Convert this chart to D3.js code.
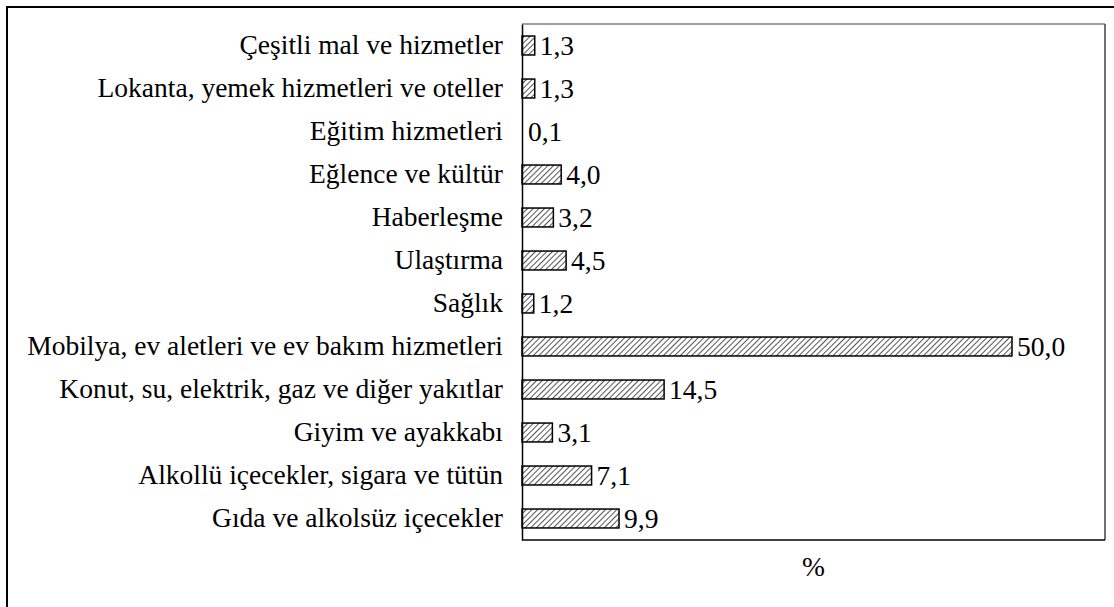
<!DOCTYPE html>
<html>
<head>
<meta charset="utf-8">
<script src="https://cdn.jsdelivr.net/npm/d3@7"></script>
<style>
  body { margin: 0; background: #fff; }
</style>
</head>
<body>
<div id="vis"></div>
<script>
// frame size and plot box
const FRAME_WIDTH = 1114;
const FRAME_HEIGHT = 607;
const PLOT = {left: 522, top: 24, right: 1105, bottom: 540};
const FONT = "Liberation Serif";
const FONT_SIZE = "27.5px";

// data, top row first
const categories = [
  "Çeşitli mal ve hizmetler",
  "Lokanta, yemek hizmetleri ve oteller",
  "Eğitim hizmetleri",
  "Eğlence ve kültür",
  "Haberleşme",
  "Ulaştırma",
  "Sağlık",
  "Mobilya, ev aletleri ve ev bakım hizmetleri",
  "Konut, su, elektrik, gaz ve diğer yakıtlar",
  "Giyim ve ayakkabı",
  "Alkollü içecekler, sigara ve tütün",
  "Gıda ve alkolsüz içecekler"
];
const values = [1.3, 1.3, 0.1, 4.0, 3.2, 4.5, 1.2, 50.0, 14.5, 3.1, 7.1, 9.9];
const axisTitle = "%";

const rows = categories.map((c, i) => ({name: c, value: values[i]}));

const svg = d3.select("#vis")
  .append("svg")
    .attr("width", FRAME_WIDTH)
    .attr("height", FRAME_HEIGHT);

// hatch pattern for bars
const pat = svg.append("defs").append("pattern")
  .attr("id", "hatch")
  .attr("patternUnits", "userSpaceOnUse")
  .attr("width", 4)
  .attr("height", 4)
  .attr("patternTransform", "rotate(45)");
pat.append("rect").attr("width", 4).attr("height", 4).attr("fill", "#fff");
pat.append("line")
  .attr("x1", 0).attr("y1", 0).attr("x2", 0).attr("y2", 4)
  .attr("stroke", "#555").attr("stroke-width", 2);

// outer frame (right and bottom edges run off the picture)
svg.append("rect")
  .attr("x", 7).attr("y", 7)
  .attr("width", FRAME_WIDTH + 20).attr("height", FRAME_HEIGHT + 20)
  .attr("fill", "none")
  .attr("stroke", "#000")
  .attr("stroke-width", 2);

// scales
const X_SCALE = d3.scaleLinear()
  .domain([0, 60])
  .range([PLOT.left, PLOT.left + 588]);

const Y_SCALE = d3.scaleBand()
  .domain(categories)
  .range([PLOT.top, PLOT.bottom])
  .paddingInner(0.56)
  .paddingOuter(0.28);

// plot box: top grey, right dark grey
svg.append("line")
  .attr("x1", PLOT.left).attr("x2", PLOT.right)
  .attr("y1", PLOT.top).attr("y2", PLOT.top)
  .attr("stroke", "#808080").attr("stroke-width", 1.5);
svg.append("line")
  .attr("x1", PLOT.right).attr("x2", PLOT.right)
  .attr("y1", PLOT.top).attr("y2", PLOT.bottom)
  .attr("stroke", "#404040").attr("stroke-width", 1.5);

// bars
svg.selectAll(".bar")
  .data(rows)
  .enter()
  .append("rect")
    .attr("class", "bar")
    .attr("x", X_SCALE(0))
    .attr("y", d => Y_SCALE(d.name))
    .attr("width", d => X_SCALE(d.value) - X_SCALE(0))
    .attr("height", Y_SCALE.bandwidth())
    .attr("fill", "url(#hatch)")
    .attr("stroke", d => d.value < 0.5 ? "none" : "#000")
    .attr("stroke-width", 1.5);

// value labels
svg.selectAll(".val")
  .data(rows)
  .enter()
  .append("text")
    .attr("class", "val")
    .attr("x", d => X_SCALE(d.value) + 5)
    .attr("y", d => Y_SCALE(d.name) + Y_SCALE.bandwidth() / 2)
    .attr("dy", "0.35em")
    .style("font-family", FONT)
    .style("font-size", FONT_SIZE)
    .style("fill", "#000")
    .text(d => d.value.toFixed(1).replace(".", ","));

// category axis
const yAxis = svg.append("g")
  .attr("transform", "translate(" + PLOT.left + ",0)")
  .call(d3.axisLeft(Y_SCALE).tickSize(0).tickPadding(19));
yAxis.select(".domain").attr("stroke", "#000").attr("stroke-width", 1.5);
yAxis.selectAll("text")
  .style("font-family", FONT)
  .style("font-size", FONT_SIZE)
  .style("fill", "#000");

// bottom line
svg.append("line")
  .attr("x1", PLOT.left).attr("x2", PLOT.right)
  .attr("y1", PLOT.bottom).attr("y2", PLOT.bottom)
  .attr("stroke", "#000").attr("stroke-width", 1.5);

// axis title
svg.append("text")
  .attr("x", (PLOT.left + PLOT.right) / 2)
  .attr("y", 566)
  .attr("dy", "0.35em")
  .attr("text-anchor", "middle")
  .style("font-family", FONT)
  .style("font-size", FONT_SIZE)
  .style("fill", "#000")
  .text(axisTitle);
</script>
</body>
</html>
